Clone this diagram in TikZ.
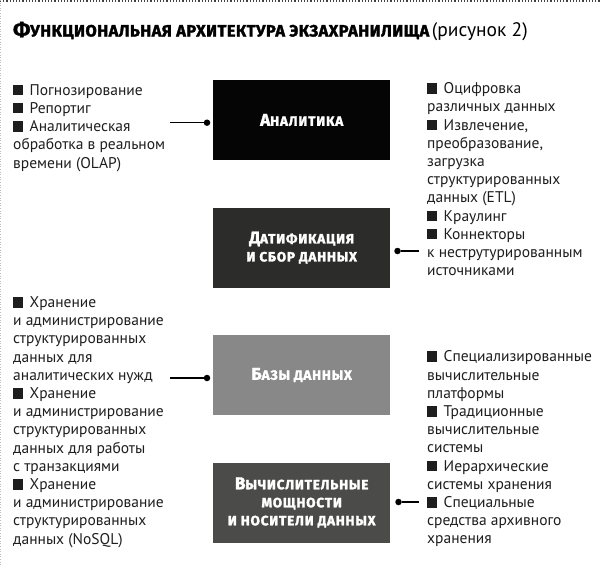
\documentclass[tikz,border=0pt]{standalone}
\usepackage{fontspec}
\setmainfont{PT Sans}
\newfontfamily\heavyfam{Fira Sans}[LetterSpace=6, BoldFeatures={FakeBold=2}]
\newfontfamily\titlefam{Fira Sans}[LetterSpace=3, BoldFeatures={FakeBold=2}]
\newcommand\heavy{\heavyfam\bfseries}
\newcommand\theavy{\titlefam\bfseries}
\definecolor{cAn}{HTML}{050505}
\definecolor{cDat}{HTML}{2C2C2B}
\definecolor{cDb}{HTML}{888888}
\definecolor{cComp}{HTML}{4B4C4A}
\definecolor{textc}{HTML}{1E1E1E}
\newcommand\sqb{\rule{10pt}{10.5pt}\hspace{6.5pt}}
\newcommand\fst{\rule{0pt}{13pt}}
\newcommand\hsc[2]{{\fontsize{17}{18}\selectfont #1}#2}
\begin{document}
\begin{tikzpicture}[x=1pt,y=-1pt,
  box/.style={draw=none, minimum width=177pt, minimum height=80pt, inner sep=0pt,
    text=white, align=center, font=\heavy\fontsize{13.5}{18}\selectfont},
  txt/.style={anchor=north west, inner sep=0pt, align=left, text=textc,
    font=\fontsize{15.5}{18.2}\selectfont},
  conn/.style={line width=1.5pt, draw=black},
  dot/.style={circle, fill=black, inner sep=0pt, minimum size=6.5pt}]
\useasboundingbox (0,0) rectangle (600,565);
\draw[dotted, line width=1.2pt, black!75] (0,1) -- (600,1);
\draw[dotted, line width=0.6pt, black!25] (0.5,0) -- (0.5,565);

\node[anchor=base west, inner sep=0pt] (title) at (13,36.5)
 {{\theavy\fontsize{16.4}{18}\selectfont{\fontsize{20}{18}\selectfont Ф}УНКЦИОНАЛЬНАЯ АРХИТЕКТУРА ЭКЗАХРАНИЛИЩА} {\fontsize{19.5}{18}\selectfont(рисунок 2)}};

\node[box, fill=cAn] (an) at (301.7,120) {\hsc{А}{НАЛИТИКА}};
\node[box, fill=cDat] (dat) at (301.7,247.7) {\hsc{Д}{АТИФИКАЦИЯ}\\И СБОР ДАННЫХ};
\node[box, fill=cDb] (db) at (301.7,375) {\hsc{Б}{АЗЫ ДАННЫХ}};
\node[box, fill=cComp] (comp) at (301.7,502.5) {\hsc{В}{ЫЧИСЛИТЕЛЬНЫЕ}\\МОЩНОСТИ\\И НОСИТЕЛИ ДАННЫХ};

\node[txt] (l1) at (13,82) {\fst\sqb Погнозирование\\\sqb Репортиг\\\sqb Аналитическая\\обработка в реальном\\времени (OLAP)};
\node[txt] (r1) at (427,80.5) {\fst\sqb Оцифровка\\различных данных\\\sqb Извлечение,\\преобразование,\\загрузка\\структурированных\\данных (ETL)\\\sqb Краулинг\\\sqb Коннекторы\\к неструтурированным\\источниками};
\node[txt] (l2) at (13,294.3) {\fst\sqb Хранение\\и администрирование\\структурированных\\данных для\\аналитических нужд\\\sqb Хранение\\и администрирование\\структурированных\\данных для работы\\с транзакциями\\\sqb Хранение\\и администрирование\\структурированных\\данных (NoSQL)};
\node[txt] (r2) at (427,348.7) {\fst\sqb Специализированные\\вычислительные\\платформы\\\sqb Традиционные\\вычислительные\\системы\\\sqb Иерархические\\системы хранения\\\sqb Специальные\\средства архивного\\хранения};

\coordinate (e1) at (170,122.7);
\node[dot] (d1) at (207,122.7) {};
\draw[conn] (e1) -- (d1);
\coordinate (e2) at (419,251);
\node[dot] (d2) at (397.5,251) {};
\draw[conn] (d2) -- (e2);
\coordinate (e3) at (170,378);
\node[dot] (d3) at (207,378) {};
\draw[conn] (e3) -- (d3);
\coordinate (e4) at (419,502);
\node[dot] (d4) at (398.5,502) {};
\draw[conn] (d4) -- (e4);
\end{tikzpicture}
\end{document}
